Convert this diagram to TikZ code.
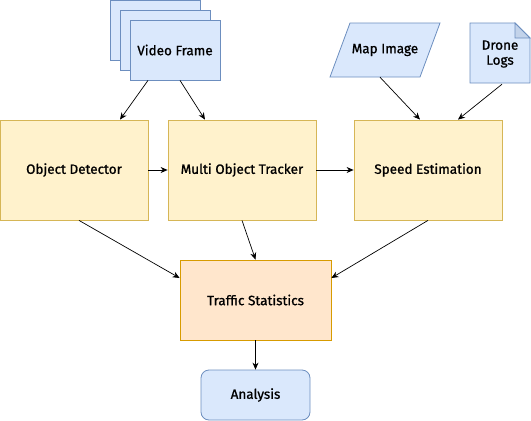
\documentclass[tikz,border=0pt]{standalone}
\usepackage{fontspec}
\setmainfont{Fira Sans}
\font\boxfont="Fira Sans:embolden=1" at 13.5pt
\usetikzlibrary{arrows.meta,positioning,calc}

\definecolor{bluefill}{HTML}{DAE8FC}
\definecolor{blueline}{HTML}{6C8EBF}
\definecolor{bluefold}{HTML}{C3D3EA}
\definecolor{yellowfill}{HTML}{FFF2CC}
\definecolor{yellowline}{HTML}{D6B656}
\definecolor{orangefill}{HTML}{FFE6CC}
\definecolor{orangeline}{HTML}{D79B00}

\begin{document}
\begin{tikzpicture}[x=1pt, y=-1pt, font=\boxfont,
  inbox/.style={draw=blueline, fill=bluefill, line width=0.8pt, minimum width=90pt, minimum height=60pt, inner sep=0pt},
  stepbox/.style={draw=yellowline, fill=yellowfill, line width=0.8pt, minimum width=148pt, minimum height=100pt, inner sep=0pt},
  statbox/.style={draw=orangeline, fill=orangefill, line width=0.8pt, minimum width=151pt, minimum height=80pt, inner sep=0pt},
  textonly/.style={minimum width=60pt, minimum height=60pt, inner sep=0pt, align=center},
  link/.style={-{Stealth[length=7pt, width=6pt]}, line width=0.7pt}]
\useasboundingbox (0,0) rectangle (531,421);

% Video Frame stapel
\node[inbox] (vf1) at (155,30) {};
\node[inbox] (vf2) at (165,40) {};
\node[inbox] (vf) at (175,50) {Video Frame};

% Map Image
\draw[draw=blueline, fill=bluefill, line width=0.8pt] (330,77) -- (350,23) -- (440,23) -- (420,77) -- cycle;
\node[textonly] (map) at (385,50) {Map Image};

% Drone Logs
\draw[draw=blueline, fill=bluefill, line width=0.8pt] (470,23) -- (515,23) -- (530,38) -- (530,83) -- (470,83) -- cycle;
\draw[draw=blueline, fill=bluefold, line width=0.8pt] (515,23) -- (515,38) -- (530,38) -- cycle;
\node[textonly] (logs) at (500,54) {Drone\\[3pt]Logs};

% verwerking
\node[stepbox] (det) at (74,170) {Object Detector};
\node[stepbox] (mot) at (242,170) {Multi Object Tracker};
\node[stepbox] (speed) at (428,170) {Speed Estimation};

% resultaat
\node[statbox] (stats) at (255.5,300) {Traffic Statistics};
\node[draw=blueline, fill=bluefill, line width=0.8pt, rounded corners=8pt, minimum width=109pt, minimum height=50pt, inner sep=0pt] (ana) at (255.5,395) {Analysis};

% pijlen
\draw[link] ($(vf.south)+(-27,0)$) -- ($(det.north)+(46,0)$);
\draw[link] ($(vf.south)+(5,0)$) -- ($(mot.north)+(-37,0)$);
\draw[link] ($(map.south)+(-5,-3)$) -- ($(speed.north)+(-8,0)$);
\draw[link] ($(logs.south)+(2,0)$) -- ($(speed.north)+(30,0)$);
\draw[link] (det.east) -- (mot.west);
\draw[link] (mot.east) -- (speed.west);
\draw[link] ($(det.south)+(5,0)$) -- ($(stats.west)+(0,-22)$);
\draw[link] (mot.south) -- (stats.north);
\draw[link] (speed.south) -- ($(stats.east)+(0,-22)$);
\draw[link] (stats.south) -- (ana.north);
\end{tikzpicture}
\end{document}
